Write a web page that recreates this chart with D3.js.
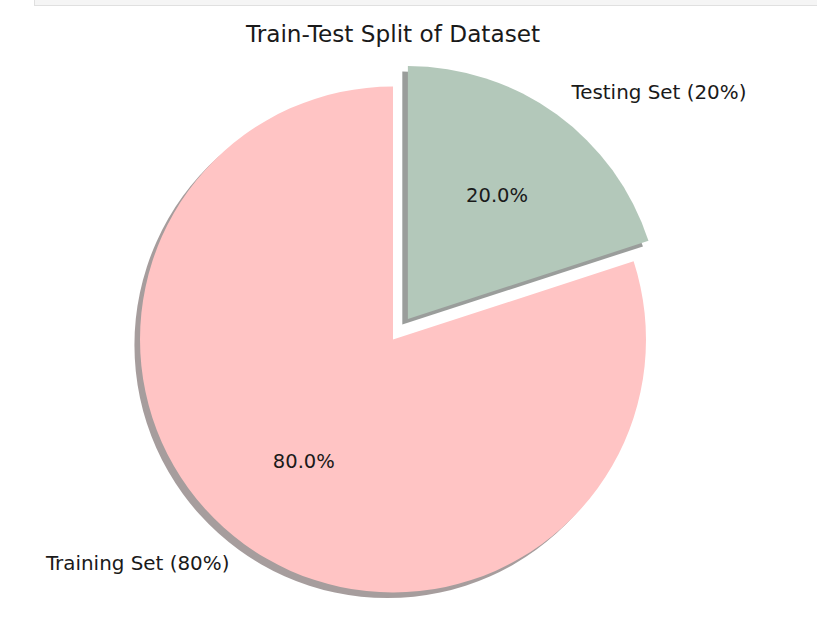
<!DOCTYPE html>
<html>
<head>
<meta charset="utf-8">
<script src="https://cdn.jsdelivr.net/npm/d3@7"></script>
<style>
  html, body { margin: 0; padding: 0; background: #fff; }
  svg { display: block; }
  text { font-family: "DejaVu Sans", sans-serif; fill: #1a1a1a; }
</style>
</head>
<body>
<svg id="chart" width="817" height="621"></svg>
<script>
// ---- data ----
const categories = ["Training Set (80%)", "Testing Set (20%)"];
const values = [80, 20];
const explode = [0, 0.1];
const colors = ["#ffc4c4", "#b3c8ba"];
const title = "Train-Test Split of Dataset";

// ---- layout ----
const W = 817, H = 621;
const cx = 393, cy = 339.5;
const R = 253;
const svg = d3.select("#chart");

// notebook chrome strip at the top
svg.append("rect")
  .attr("x", 34.5).attr("y", -2).attr("width", W).attr("height", 7.5)
  .attr("fill", "#f5f5f5").attr("stroke", "#e0e0e0").attr("stroke-width", 1);

// data units (radius = 1) -> pixels
const rs = d3.scaleLinear().domain([0, 1]).range([0, R]);

// matplotlib: startangle 90, counterclockwise => d3 angles going negative
const pie = d3.pie().sort(null).value(d => d.v).startAngle(0).endAngle(-2 * Math.PI);
const data = categories.map((c, i) => ({ c, v: values[i], e: explode[i], color: colors[i] }));
const arcs = pie(data);
const arc = d3.arc().innerRadius(0).outerRadius(rs(1));

const total = d3.sum(values);
arcs.forEach(a => {
  a.mid = (a.startAngle + a.endAngle) / 2;
  a.ox = Math.sin(a.mid) * rs(a.data.e);
  a.oy = -Math.cos(a.mid) * rs(a.data.e);
});

const g = svg.append("g").attr("transform", `translate(${cx},${cy})`);

// shadows (face colour * 0.3, alpha 0.5), offset (-0.02, -0.02) in data units
const sh = rs(0.022);
g.selectAll("path.shadow").data(arcs).join("path")
  .attr("class", "shadow")
  .attr("d", arc)
  .attr("transform", a => `translate(${a.ox - sh},${a.oy + sh})`)
  .attr("fill", a => {
    const c = d3.rgb(a.data.color);
    return d3.rgb(c.r * 0.3, c.g * 0.3, c.b * 0.3).toString();
  })
  .attr("fill-opacity", 0.5);

// wedges
g.selectAll("path.wedge").data(arcs).join("path")
  .attr("class", "wedge")
  .attr("d", arc)
  .attr("transform", a => `translate(${a.ox},${a.oy})`)
  .attr("fill", a => a.data.color);

// category labels at labeldistance 1.1
g.selectAll("text.lab").data(arcs).join("text")
  .attr("class", "lab")
  .attr("x", a => a.ox + Math.sin(a.mid) * rs(1.1))
  .attr("y", a => a.oy - Math.cos(a.mid) * rs(1.1))
  .attr("dy", "0.27em")
  .attr("text-anchor", a => Math.sin(a.mid) < 0 ? "end" : "start")
  .style("font-size", "19.9px")
  .text(a => a.data.c);

// percentage labels at pctdistance 0.6
g.selectAll("text.pct").data(arcs).join("text")
  .attr("class", "pct")
  .attr("x", a => a.ox + Math.sin(a.mid) * rs(0.6))
  .attr("y", a => a.oy - Math.cos(a.mid) * rs(0.6))
  .attr("dy", "0.27em")
  .attr("text-anchor", "middle")
  .style("font-size", "19.5px")
  .text(a => (a.data.v / total * 100).toFixed(1) + "%");

// title
svg.append("text")
  .attr("x", 393).attr("y", 41.5)
  .attr("text-anchor", "middle")
  .style("font-size", "23.2px")
  .text(title);
</script>
</body>
</html>
